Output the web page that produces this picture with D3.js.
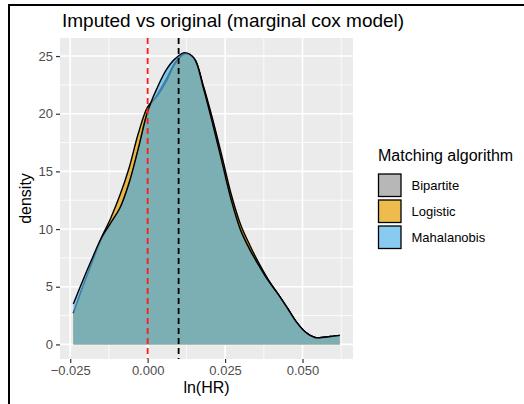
<!DOCTYPE html>
<html>
<head>
<meta charset="utf-8">
<script src="https://cdn.jsdelivr.net/npm/d3@7/dist/d3.min.js"></script>
<style>
  html, body { margin: 0; padding: 0; background: #fff; }
  svg { display: block; font-family: "Liberation Sans", Arial, Helvetica, sans-serif; }
</style>
</head>
<body>
<svg id="chart" width="524" height="404"></svg>
<script>
// Evaluation grid for ln(HR) and estimated density per matching algorithm
const lnHR = [-0.024, -0.021, -0.018, -0.015, -0.012, -0.009, -0.006, -0.003, 0.000, 0.003,
              0.006, 0.009, 0.012, 0.015, 0.018, 0.021, 0.024, 0.027, 0.030, 0.033,
              0.036, 0.039, 0.042, 0.045, 0.048, 0.051, 0.054, 0.057, 0.060, 0.062];
const bipartite   = [2.7, 4.9, 7.0, 9.0, 10.5, 11.8, 14.0, 17.0, 20.2, 21.6,
                     23.0, 24.5, 25.2, 24.8, 22.3, 19.3, 16.0, 12.6, 10.0, 8.3,
                     6.8, 5.5, 4.4, 3.2, 1.95, 1.05, 0.6, 0.62, 0.72, 0.78];
const logistic    = [2.7, 5.0, 7.1, 9.2, 10.9, 12.9, 15.3, 18.3, 20.6, 21.5,
                     22.8, 24.4, 25.2, 24.8, 22.4, 19.5, 16.3, 13.0, 10.4, 8.6,
                     7.0, 5.6, 4.4, 3.2, 1.95, 1.05, 0.6, 0.62, 0.72, 0.78];
const mahalanobis = [3.5, 5.5, 7.4, 9.2, 10.5, 11.8, 14.0, 17.0, 20.2, 22.2,
                     23.8, 24.8, 25.3, 24.8, 22.2, 19.1, 15.8, 12.5, 9.9, 8.2,
                     6.8, 5.5, 4.4, 3.2, 1.95, 1.05, 0.6, 0.62, 0.72, 0.78];

const algorithms = ["Bipartite", "Logistic", "Mahalanobis"];
const seriesValues = [bipartite, logistic, mahalanobis];

const xTicks = [-0.025, 0.000, 0.025, 0.050];
const xTickLabels = ["\u22120.025", "0.000", "0.025", "0.050"];
const yTicks = [0, 5, 10, 15, 20, 25];
const yTickLabels = ["0", "5", "10", "15", "20", "25"];

// Reference estimates: zero effect and the original estimate
const refLines = [0.0, 0.01];

const titleText = "Imputed vs original (marginal cox model)";
const xTitle = "ln(HR)";
const yTitle = "density";
const legendTitle = "Matching algorithm";

// ---- styling ----
const fillColors = ["#999999", "#E69F00", "#56B4E9"];
const fillAlpha = 0.7;
const refColors = ["#FF1A1A", "#000000"];
const panel = { left: 60, right: 353, top: 38, bottom: 359 };
const axisTextColor = "#4D4D4D";
const tickColor = "#333333";

const svg = d3.select("#chart");

// outer frame
svg.append("rect")
  .attr("x", 9).attr("y", 5).attr("width", 700).attr("height", 600)
  .attr("fill", "none").attr("stroke", "#000").attr("stroke-width", 2);

// scales with 5% expansion
const xmin = d3.min(lnHR), xmax = d3.max(lnHR);
const xr = xmax - xmin;
const x = d3.scaleLinear()
  .domain([xmin - 0.05 * xr, xmax + 0.05 * xr])
  .range([panel.left, panel.right]);
const ymax = d3.max(seriesValues.flat());
const yr = ymax - 0;
const y = d3.scaleLinear()
  .domain([0 - 0.05 * yr, ymax + 0.05 * yr])
  .range([panel.bottom, panel.top]);

// panel background
svg.append("rect")
  .attr("x", panel.left).attr("y", panel.top)
  .attr("width", panel.right - panel.left).attr("height", panel.bottom - panel.top)
  .attr("fill", "#EBEBEB");

// minor grid
const xMinor = xTicks.slice(0, -1).map((t, i) => (t + xTicks[i + 1]) / 2)
  .concat([xTicks[xTicks.length - 1] + 0.0125, xTicks[0] - 0.0125])
  .filter(v => v > x.domain()[0] && v < x.domain()[1]);
const yMinor = yTicks.map(t => t + 2.5).concat([-2.5])
  .filter(v => v > y.domain()[0] && v < y.domain()[1]);
const grid = svg.append("g");
grid.selectAll(".xminor").data(xMinor).join("line")
  .attr("x1", d => x(d)).attr("x2", d => x(d))
  .attr("y1", panel.top).attr("y2", panel.bottom)
  .attr("stroke", "#fff").attr("stroke-width", 0.8);
grid.selectAll(".yminor").data(yMinor).join("line")
  .attr("y1", d => y(d)).attr("y2", d => y(d))
  .attr("x1", panel.left).attr("x2", panel.right)
  .attr("stroke", "#fff").attr("stroke-width", 0.8);
grid.selectAll(".xmajor").data(xTicks).join("line")
  .attr("x1", d => x(d)).attr("x2", d => x(d))
  .attr("y1", panel.top).attr("y2", panel.bottom)
  .attr("stroke", "#fff").attr("stroke-width", 1.6);
grid.selectAll(".ymajor").data(yTicks).join("line")
  .attr("y1", d => y(d)).attr("y2", d => y(d))
  .attr("x1", panel.left).attr("x2", panel.right)
  .attr("stroke", "#fff").attr("stroke-width", 1.6);

// densities
const area = d3.area()
  .x(d => x(d[0])).y0(y(0)).y1(d => y(d[1]))
  .curve(d3.curveCatmullRom.alpha(0.5));
const upper = d3.line()
  .x(d => x(d[0])).y(d => y(d[1]))
  .curve(d3.curveCatmullRom.alpha(0.5));

const dens = svg.append("g");
seriesValues.forEach((vals, i) => {
  const pts = lnHR.map((v, j) => [v, vals[j]]);
  dens.append("path").attr("d", area(pts))
    .attr("fill", fillColors[i]).attr("fill-opacity", fillAlpha);
  dens.append("path").attr("d", upper(pts))
    .attr("fill", "none").attr("stroke", "#000").attr("stroke-width", 1.4);
});

// reference lines
svg.append("g").selectAll("line").data(refLines).join("line")
  .attr("x1", d => x(d)).attr("x2", d => x(d))
  .attr("y1", panel.top).attr("y2", panel.bottom)
  .attr("stroke", (d, i) => refColors[i])
  .attr("stroke-width", 1.8)
  .attr("stroke-dasharray", "6,4");

// axes
const xAxis = d3.axisBottom(x).tickValues(xTicks)
  .tickFormat((d, i) => xTickLabels[i]).tickSize(4).tickPadding(3);
const gx = svg.append("g").attr("transform", `translate(0,${panel.bottom})`).call(xAxis);
gx.select(".domain").remove();
gx.selectAll(".tick line").attr("stroke", tickColor).attr("stroke-width", 1.2);
gx.selectAll(".tick text").attr("fill", axisTextColor)
  .style("font-size", "13px").style("font-family", "'Liberation Sans', Arial, sans-serif");

const yAxis = d3.axisLeft(y).tickValues(yTicks)
  .tickFormat((d, i) => yTickLabels[i]).tickSize(4).tickPadding(3);
const gy = svg.append("g").attr("transform", `translate(${panel.left},0)`).call(yAxis);
gy.select(".domain").remove();
gy.selectAll(".tick line").attr("stroke", tickColor).attr("stroke-width", 1.2);
gy.selectAll(".tick text").attr("fill", axisTextColor)
  .style("font-size", "13px").style("font-family", "'Liberation Sans', Arial, sans-serif");

// titles
svg.append("text").attr("x", 62).attr("y", 27)
  .attr("font-size", 19).attr("fill", "#000").text(titleText);
svg.append("text").attr("x", (panel.left + panel.right) / 2).attr("y", 393)
  .attr("text-anchor", "middle").attr("font-size", 16).attr("fill", "#000").text(xTitle);
svg.append("text")
  .attr("transform", `translate(31,${(panel.top + panel.bottom) / 2}) rotate(-90)`)
  .attr("text-anchor", "middle").attr("font-size", 16).attr("fill", "#000").text(yTitle);

// legend
const legend = svg.append("g");
legend.append("text").attr("x", 378).attr("y", 161)
  .attr("font-size", 16).attr("fill", "#000").text(legendTitle);
const keys = legend.selectAll(".key").data(algorithms).join("g")
  .attr("transform", (d, i) => `translate(378,${173.5 + i * 26})`);
keys.append("rect").attr("x", 0.5).attr("y", 0.5).attr("width", 22.5).attr("height", 22.5)
  .attr("fill", (d, i) => fillColors[i]).attr("fill-opacity", fillAlpha)
  .attr("stroke", "#000").attr("stroke-width", 1.3);
keys.append("text").attr("x", 33.5).attr("y", 16.3)
  .attr("font-size", 13).attr("fill", "#000").text(d => d);
</script>
</body>
</html>
